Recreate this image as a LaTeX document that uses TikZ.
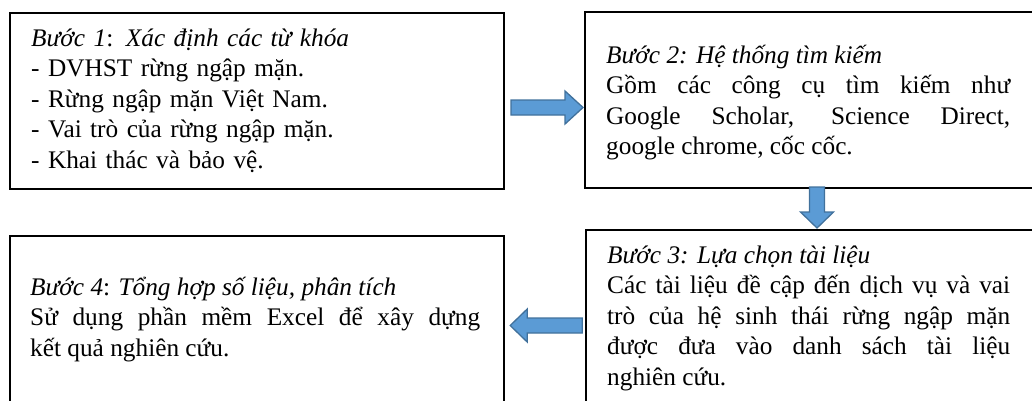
\documentclass[tikz,border=0pt]{standalone}
\usepackage{fontspec}
\setmainfont{Liberation Serif}
\usetikzlibrary{calc}

\definecolor{arrowblue}{HTML}{5B9BD5}
\definecolor{arrowedge}{HTML}{41719C}

\newcommand\stepfont{\fontsize{25.3}{30.6}\selectfont
  \hyphenpenalty=10000 \exhyphenpenalty=10000 \tolerance=10000}

% block arrow: tip coordinate, direction angle, total length, head length
\newcommand\stepArrow[4]{%
  \begin{scope}[shift={(#1)}, rotate=#2]
    \filldraw[arrowfill] (0,0) -- (-#4,16.5) -- (-#4,7.5) -- (-#3,7.5)
      -- (-#3,-7.5) -- (-#4,-7.5) -- (-#4,-16.5) -- cycle;
  \end{scope}}

\tikzset{
  stepbox/.style={draw=black, line width=2.2pt, rectangle, inner sep=0pt,
    anchor=north west},
  steptext/.style={inner sep=0pt, anchor=base west, font=\stepfont},
  arrowfill/.style={fill=arrowblue, draw=arrowedge, line width=1.3pt,
    line join=miter},
}

\begin{document}
\begin{tikzpicture}[x=1pt, y=-1pt]
\useasboundingbox (0,0) rectangle (1032,400);
\clip (0,0) rectangle (1032,400);

% boxes
\node[stepbox, minimum width=494pt, minimum height=176pt] (b1) at (9,12) {};
\node[stepbox, minimum width=470pt, minimum height=176pt] (b2) at (584,11) {};
\node[stepbox, minimum width=470pt, minimum height=200pt] (b3) at (585,229) {};
\node[stepbox, minimum width=494pt, minimum height=190pt] (b4) at (9,235) {};

% texts
\node[steptext, text width=470pt, align=left] (t1) at (31,46)
  {\textit{Bước 1}: \textit{Xác định các từ khóa}\\
   - DVHST rừng ngập mặn.\\
   - Rừng ngập mặn Việt Nam.\\
   - Vai trò của rừng ngập mặn.\\
   - Khai thác và bảo vệ.};

\node[steptext, text width=404pt, align=justify] (t2) at (606,63)
  {\textit{Bước 2: Hệ thống tìm kiếm}\\
   Gồm các công cụ tìm kiếm như\linebreak
   Google Scholar, Science Direct,\linebreak
   google chrome, cốc cốc.};

\node[steptext, text width=403pt, align=justify] (t3) at (607,263)
  {\textit{Bước 3: Lựa chọn tài liệu}\\
   Các tài liệu đề cập đến dịch vụ và vai\linebreak
   trò của hệ sinh thái rừng ngập mặn\linebreak
   được đưa vào danh sách tài liệu\linebreak
   nghiên cứu.};

\node[steptext, text width=450pt, align=justify] (t4) at (30,295)
  {\textit{Bước 4}: \textit{Tổng hợp số liệu, phân tích}\\
   Sử dụng phần mềm Excel để xây dựng\linebreak
   kết quả nghiên cứu.};

% arrow tips, placed against the boxes they point to
\coordinate (tip12) at ($(b2.north west)+(-1,96.5)$);
\coordinate (tip23) at ($(b3.north west)+(232,-1)$);
\coordinate (tip34) at ($(b4.north east)+(5,90.5)$);

\stepArrow{tip12}{0}{72}{18}
\stepArrow{tip23}{-90}{41}{16}
\stepArrow{tip34}{180}{72}{17}
\end{tikzpicture}
\end{document}
